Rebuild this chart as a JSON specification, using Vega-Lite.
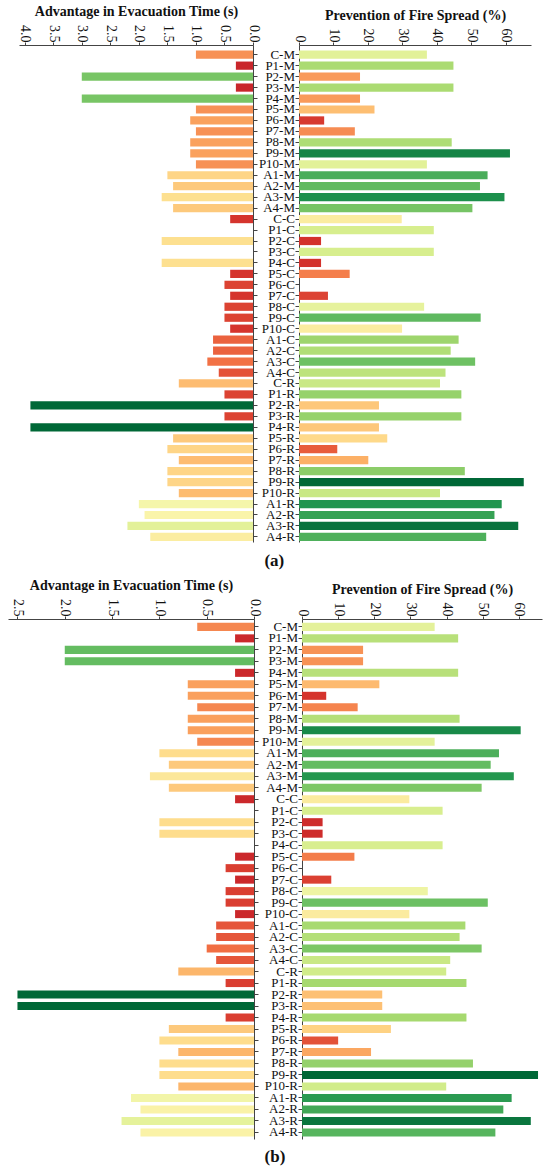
{
  "$schema": "https://vega.github.io/schema/vega-lite/v6.json",
  "padding": {"left": 8, "top": 4, "right": 5, "bottom": 5},
  "background": "white",
  "config": {
    "view": {"stroke": null},
    "font": "Liberation Serif",
    "axis": {
      "grid": false,
      "domainColor": "#444",
      "tickColor": "#444",
      "labelColor": "#111",
      "titleColor": "#111",
      "labelFont": "Liberation Serif",
      "titleFont": "Liberation Serif",
      "labelFontSize": 14,
      "titleFontSize": 14,
      "titleFontWeight": "bold"
    },
    "title": {"font": "Liberation Serif", "fontSize": 17, "fontWeight": "bold", "color": "#111"}
  },
  "datasets": {
    "cases": [
      {"panel": "a", "cat": "C-M", "evac": 1.0, "fire": 37.1},
      {"panel": "a", "cat": "P1-M", "evac": 0.3, "fire": 44.8},
      {"panel": "a", "cat": "P2-M", "evac": 3.0, "fire": 17.7},
      {"panel": "a", "cat": "P3-M", "evac": 0.3, "fire": 44.8},
      {"panel": "a", "cat": "P4-M", "evac": 3.0, "fire": 17.7},
      {"panel": "a", "cat": "P5-M", "evac": 1.0, "fire": 21.9},
      {"panel": "a", "cat": "P6-M", "evac": 1.1, "fire": 7.3},
      {"panel": "a", "cat": "P7-M", "evac": 1.0, "fire": 16.2},
      {"panel": "a", "cat": "P8-M", "evac": 1.1, "fire": 44.3},
      {"panel": "a", "cat": "P9-M", "evac": 1.1, "fire": 61.2},
      {"panel": "a", "cat": "P10-M", "evac": 1.0, "fire": 37.1},
      {"panel": "a", "cat": "A1-M", "evac": 1.5, "fire": 54.7},
      {"panel": "a", "cat": "A2-M", "evac": 1.4, "fire": 52.5},
      {"panel": "a", "cat": "A3-M", "evac": 1.6, "fire": 59.6},
      {"panel": "a", "cat": "A4-M", "evac": 1.4, "fire": 50.3},
      {"panel": "a", "cat": "C-C", "evac": 0.4, "fire": 29.8},
      {"panel": "a", "cat": "P1-C", "evac": 0, "fire": 39.1},
      {"panel": "a", "cat": "P2-C", "evac": 1.6, "fire": 6.4},
      {"panel": "a", "cat": "P3-C", "evac": 0, "fire": 39.1},
      {"panel": "a", "cat": "P4-C", "evac": 1.6, "fire": 6.4},
      {"panel": "a", "cat": "P5-C", "evac": 0.4, "fire": 14.7},
      {"panel": "a", "cat": "P6-C", "evac": 0.5, "fire": 0},
      {"panel": "a", "cat": "P7-C", "evac": 0.4, "fire": 8.4},
      {"panel": "a", "cat": "P8-C", "evac": 0.5, "fire": 36.3},
      {"panel": "a", "cat": "P9-C", "evac": 0.5, "fire": 52.7},
      {"panel": "a", "cat": "P10-C", "evac": 0.4, "fire": 29.9},
      {"panel": "a", "cat": "A1-C", "evac": 0.7, "fire": 46.3},
      {"panel": "a", "cat": "A2-C", "evac": 0.7, "fire": 44.0},
      {"panel": "a", "cat": "A3-C", "evac": 0.8, "fire": 51.1},
      {"panel": "a", "cat": "A4-C", "evac": 0.6, "fire": 42.5},
      {"panel": "a", "cat": "C-R", "evac": 1.3, "fire": 40.9},
      {"panel": "a", "cat": "P1-R", "evac": 0.5, "fire": 47.1},
      {"panel": "a", "cat": "P2-R", "evac": 3.9, "fire": 23.2},
      {"panel": "a", "cat": "P3-R", "evac": 0.5, "fire": 47.1},
      {"panel": "a", "cat": "P4-R", "evac": 3.9, "fire": 23.2},
      {"panel": "a", "cat": "P5-R", "evac": 1.4, "fire": 25.6},
      {"panel": "a", "cat": "P6-R", "evac": 1.5, "fire": 11.1},
      {"panel": "a", "cat": "P7-R", "evac": 1.3, "fire": 20.1},
      {"panel": "a", "cat": "P8-R", "evac": 1.5, "fire": 48.1},
      {"panel": "a", "cat": "P9-R", "evac": 1.5, "fire": 65.2},
      {"panel": "a", "cat": "P10-R", "evac": 1.3, "fire": 40.9},
      {"panel": "a", "cat": "A1-R", "evac": 2.0, "fire": 58.8},
      {"panel": "a", "cat": "A2-R", "evac": 1.9, "fire": 56.7},
      {"panel": "a", "cat": "A3-R", "evac": 2.2, "fire": 63.6},
      {"panel": "a", "cat": "A4-R", "evac": 1.8, "fire": 54.3},
      {"panel": "b", "cat": "C-M", "evac": 0.6, "fire": 36.7},
      {"panel": "b", "cat": "P1-M", "evac": 0.2, "fire": 43.2},
      {"panel": "b", "cat": "P2-M", "evac": 2.0, "fire": 16.9},
      {"panel": "b", "cat": "P3-M", "evac": 2.0, "fire": 16.9},
      {"panel": "b", "cat": "P4-M", "evac": 0.2, "fire": 43.2},
      {"panel": "b", "cat": "P5-M", "evac": 0.7, "fire": 21.4},
      {"panel": "b", "cat": "P6-M", "evac": 0.7, "fire": 6.7},
      {"panel": "b", "cat": "P7-M", "evac": 0.6, "fire": 15.4},
      {"panel": "b", "cat": "P8-M", "evac": 0.7, "fire": 43.6},
      {"panel": "b", "cat": "P9-M", "evac": 0.7, "fire": 60.5},
      {"panel": "b", "cat": "P10-M", "evac": 0.6, "fire": 36.7},
      {"panel": "b", "cat": "A1-M", "evac": 1.0, "fire": 54.5},
      {"panel": "b", "cat": "A2-M", "evac": 0.9, "fire": 52.2},
      {"panel": "b", "cat": "A3-M", "evac": 1.1, "fire": 58.6},
      {"panel": "b", "cat": "A4-M", "evac": 0.9, "fire": 49.7},
      {"panel": "b", "cat": "C-C", "evac": 0.2, "fire": 29.7},
      {"panel": "b", "cat": "P1-C", "evac": 0, "fire": 38.9},
      {"panel": "b", "cat": "P2-C", "evac": 1.0, "fire": 5.7},
      {"panel": "b", "cat": "P3-C", "evac": 1.0, "fire": 5.7},
      {"panel": "b", "cat": "P4-C", "evac": 0, "fire": 38.9},
      {"panel": "b", "cat": "P5-C", "evac": 0.2, "fire": 14.5},
      {"panel": "b", "cat": "P6-C", "evac": 0.3, "fire": 0},
      {"panel": "b", "cat": "P7-C", "evac": 0.2, "fire": 8.1},
      {"panel": "b", "cat": "P8-C", "evac": 0.3, "fire": 34.8},
      {"panel": "b", "cat": "P9-C", "evac": 0.3, "fire": 51.4},
      {"panel": "b", "cat": "P10-C", "evac": 0.2, "fire": 29.7},
      {"panel": "b", "cat": "A1-C", "evac": 0.4, "fire": 45.2},
      {"panel": "b", "cat": "A2-C", "evac": 0.4, "fire": 43.6},
      {"panel": "b", "cat": "A3-C", "evac": 0.5, "fire": 49.7},
      {"panel": "b", "cat": "A4-C", "evac": 0.4, "fire": 41.0},
      {"panel": "b", "cat": "C-R", "evac": 0.8, "fire": 39.9},
      {"panel": "b", "cat": "P1-R", "evac": 0.3, "fire": 45.5},
      {"panel": "b", "cat": "P2-R", "evac": 2.5, "fire": 22.2},
      {"panel": "b", "cat": "P3-R", "evac": 2.5, "fire": 22.2},
      {"panel": "b", "cat": "P4-R", "evac": 0.3, "fire": 45.5},
      {"panel": "b", "cat": "P5-R", "evac": 0.9, "fire": 24.6},
      {"panel": "b", "cat": "P6-R", "evac": 1.0, "fire": 10.0},
      {"panel": "b", "cat": "P7-R", "evac": 0.8, "fire": 19.1},
      {"panel": "b", "cat": "P8-R", "evac": 1.0, "fire": 47.3},
      {"panel": "b", "cat": "P9-R", "evac": 1.0, "fire": 65.3},
      {"panel": "b", "cat": "P10-R", "evac": 0.8, "fire": 39.9},
      {"panel": "b", "cat": "A1-R", "evac": 1.3, "fire": 58.0},
      {"panel": "b", "cat": "A2-R", "evac": 1.2, "fire": 55.7},
      {"panel": "b", "cat": "A3-R", "evac": 1.4, "fire": 63.3},
      {"panel": "b", "cat": "A4-R", "evac": 1.2, "fire": 53.5}
    ]
  },
  "data": {"name": "cases"},
  "vconcat": [
    {
      "title": {"text": "(a)", "orient": "bottom", "anchor": "middle", "offset": 10},
      "bounds": "flush",
      "spacing": 46,
      "resolve": {"scale": {"color": "independent", "x": "independent"}},
      "hconcat": [
        {
          "width": 234,
          "height": 497,
          "transform": [{"filter": "datum.panel == 'a'"}],
          "mark": {"type": "bar"},
          "encoding": {
            "y": {
              "field": "cat", "type": "nominal", "sort": null,
              "scale": {"paddingInner": 0.25, "paddingOuter": 0.3, "align": 0.85},
              "axis": {"orient": "right", "labels": false, "title": null, "tickSize": 4}
            },
            "x": {
              "field": "evac", "type": "quantitative",
              "scale": {"domain": [0, 4.1], "reverse": true, "nice": false},
              "axis": {
                "orient": "top", "title": "Advantage in Evacuation Time (s)",
                "values": [0, 0.5, 1, 1.5, 2, 2.5, 3, 3.5, 4], "format": ".1f",
                "labelAngle": 90, "labelAlign": "right", "labelBaseline": "middle",
                "tickSize": 3, "labelPadding": 0, "titlePadding": 6, "labelFlush": false
              }
            },
            "color": {
              "field": "evac", "type": "quantitative",
              "scale": {"scheme": "redyellowgreen", "domain": [0, 3.9]},
              "legend": null
            }
          }
        },
        {
          "width": 232,
          "height": 497,
          "transform": [{"filter": "datum.panel == 'a'"}],
          "mark": {"type": "bar"},
          "encoding": {
            "y": {
              "field": "cat", "type": "nominal", "sort": null,
              "scale": {"paddingInner": 0.25, "paddingOuter": 0.3, "align": 0.85},
              "axis": {"orient": "left", "title": null, "tickSize": 4, "labelPadding": 0.5, "labelFontSize": 13}
            },
            "x": {
              "field": "fire", "type": "quantitative",
              "scale": {"domain": [0, 67.3], "nice": false},
              "axis": {
                "orient": "top", "title": "Prevention of Fire Spread (%)",
                "values": [0, 10, 20, 30, 40, 50, 60],
                "labelAngle": 90, "labelAlign": "right", "labelBaseline": "middle",
                "tickSize": 3, "labelPadding": 0, "titlePadding": 6, "labelFlush": false
              }
            },
            "color": {
              "field": "fire", "type": "quantitative",
              "scale": {"scheme": "redyellowgreen", "domain": [0, 65.2]},
              "legend": null
            }
          }
        }
      ]
    },
    {
      "title": {"text": "(b)", "orient": "bottom", "anchor": "middle", "offset": 10},
      "bounds": "flush",
      "spacing": 48,
      "resolve": {"scale": {"color": "independent", "x": "independent"}},
      "hconcat": [
        {
          "width": 246,
          "height": 520,
          "transform": [{"filter": "datum.panel == 'b'"}],
          "mark": {"type": "bar"},
          "encoding": {
            "y": {
              "field": "cat", "type": "nominal", "sort": null,
              "scale": {"paddingInner": 0.3, "paddingOuter": 0.28, "align": 0.6},
              "axis": {"orient": "right", "labels": false, "title": null, "tickSize": 4}
            },
            "x": {
              "field": "evac", "type": "quantitative",
              "scale": {"domain": [0, 2.6], "reverse": true, "nice": false},
              "axis": {
                "orient": "top", "title": "Advantage in Evacuation Time (s)",
                "values": [0, 0.5, 1, 1.5, 2, 2.5], "format": ".1f",
                "labelAngle": 90, "labelAlign": "right", "labelBaseline": "middle",
                "tickSize": 3, "labelPadding": 0, "titlePadding": 6, "labelFlush": false
              }
            },
            "color": {
              "field": "evac", "type": "quantitative",
              "scale": {"scheme": "redyellowgreen", "domain": [0, 2.5]},
              "legend": null
            }
          }
        },
        {
          "width": 240,
          "height": 520,
          "transform": [{"filter": "datum.panel == 'b'"}],
          "mark": {"type": "bar"},
          "encoding": {
            "y": {
              "field": "cat", "type": "nominal", "sort": null,
              "scale": {"paddingInner": 0.3, "paddingOuter": 0.28, "align": 0.6},
              "axis": {"orient": "left", "title": null, "tickSize": 4, "labelPadding": 0.5, "labelFontSize": 13}
            },
            "x": {
              "field": "fire", "type": "quantitative",
              "scale": {"domain": [0, 66.4], "nice": false},
              "axis": {
                "orient": "top", "title": "Prevention of Fire Spread (%)",
                "values": [0, 10, 20, 30, 40, 50, 60],
                "labelAngle": 90, "labelAlign": "right", "labelBaseline": "middle",
                "tickSize": 3, "labelPadding": 0, "titlePadding": 6, "labelFlush": false
              }
            },
            "color": {
              "field": "fire", "type": "quantitative",
              "scale": {"scheme": "redyellowgreen", "domain": [0, 65.3]},
              "legend": null
            }
          }
        }
      ]
    }
  ],
  "spacing": 8,
  "center": true,
  "resolve": {"scale": {"color": "independent", "x": "independent", "y": "independent"}}
}
